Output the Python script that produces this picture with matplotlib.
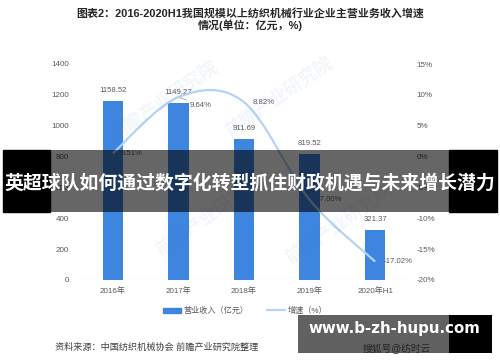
import matplotlib
matplotlib.use("Agg")
import matplotlib.pyplot as plt
import numpy as np
from matplotlib.path import Path
from matplotlib.patches import PathPatch, Rectangle
from matplotlib.lines import Line2D
from matplotlib.patches import Patch

plt.rcParams['font.family'] = ['Liberation Sans', 'Noto Sans CJK SC']

categories = ["2016年", "2017年", "2018年", "2019年", "2020年H1"]
revenue = [1158.52, 1149.27, 911.69, 819.52, 321.37]
growth = [0.51, 9.64, 8.82, -7.00, -17.02]
left_ticks = [0, 200, 400, 600, 800, 1000, 1200, 1400]
right_ticks = [-20, -15, -10, -5, 0, 5, 10, 15]

BAR = "#3d85df"
LINE = "#b4d3f5"
TXT = "#595959"

W, H = 500, 362
fig = plt.figure(figsize=(W / 100, H / 100), dpi=100)
ax = fig.add_axes([80 / W, 1 - 280 / H, 328 / W, 216 / H])
ax2 = ax.twinx()

x = np.arange(len(categories))
ax.bar(x, revenue, width=0.31, color=BAR, zorder=2)
ax.set_xlim(-0.5, len(categories) - 0.5)
ax.set_ylim(0, 1400)
ax.set_yticks(left_ticks)
ax.set_xticks(x)
ax.set_xticklabels(categories)
ax2.set_ylim(-20, 15)
ax2.set_yticks(right_ticks)
ax2.set_yticklabels([f"{t}%" for t in right_ticks])

for a in (ax, ax2):
    for s in a.spines.values():
        s.set_visible(False)
    a.tick_params(length=0, labelsize=5.8, colors=TXT)
ax.tick_params(axis='y', pad=8)
ax2.tick_params(axis='y', pad=6)
ax.tick_params(axis='x', pad=5)
ax.axhline(0, color="#d9d9d9", lw=0.8, zorder=1)
ax.set_zorder(1)
ax2.set_zorder(2)

for xi, v in zip(x, revenue):
    ax.annotate(f"{v:.2f}", (xi, v), xytext=(0, 5), textcoords="offset points",
                ha="center", va="bottom", fontsize=5.6, color=TXT)

# smooth line (Bezier through data points)
pts = np.column_stack([x, growth]).astype(float)
verts = [tuple(pts[0])]
codes = [Path.MOVETO]
n = len(pts)
for i in range(n - 1):
    p0 = pts[i - 1] if i > 0 else pts[i]
    p1, p2 = pts[i], pts[i + 1]
    p3 = pts[i + 2] if i + 2 < n else pts[i + 1]
    c1 = p1 + (p2 - p0) / 6
    c2 = p2 - (p3 - p1) / 6
    verts += [tuple(c1), tuple(c2), tuple(p2)]
    codes += [Path.CURVE4] * 3
ax2.add_patch(PathPatch(Path(verts, codes), fill=False, edgecolor=LINE, lw=1.6, zorder=3))

for i, (xi, g) in enumerate(zip(x, growth)):
    if i == 1:
        ax2.annotate(f"{g:.2f}%", (xi, g), xytext=(8, -6), textcoords="offset points",
                     ha="left", va="center", fontsize=5.6, color=TXT,
                     arrowprops=dict(arrowstyle="-", color="#a6a6a6", lw=0.6,
                                     shrinkA=0, shrinkB=1))
    else:
        ax2.annotate(f"{g:.2f}%", (xi, g), xytext=(6, 0), textcoords="offset points",
                     ha="left", va="center", fontsize=5.6, color=TXT)

# watermarks
for (wx, wy) in [(0.33, 0.72), (0.56, 0.73), (0.42, 0.4), (0.68, 0.38)]:
    fig.text(wx, wy, "前瞻产业研究院", rotation=35, fontsize=13, color="#4a7fc0",
             alpha=0.07, ha="center", va="center", fontweight="bold")

# title
fig.text(0.5, 1 - 13 / H, "图表2：2016-2020H1我国规模以上纺织机械行业企业主营业务收入增速",
         ha="center", va="center", fontsize=7.9, fontweight="bold", color="#262626")
fig.text(0.5, 1 - 25 / H, "情况(单位：亿元，%)",
         ha="center", va="center", fontsize=7.9, fontweight="bold", color="#262626")

# legend
leg = fig.legend(handles=[Patch(color=BAR, label="营业收入（亿元）"),
                          Line2D([], [], color=LINE, lw=1.6, label="增速（%）")],
                 loc="center", bbox_to_anchor=(0.49, 1 - 311 / H), ncol=2, frameon=False,
                 fontsize=5.9, handlelength=2.2, handleheight=0.6, columnspacing=2.2,
                 handletextpad=0.3)
for t in leg.get_texts():
    t.set_color(TXT)

fig.text(55 / W, 1 - 347 / H, "资料来源：中国纺织机械协会 前瞻产业研究院整理",
         ha="left", va="center", fontsize=6.6, color="#404040")

# overlay banner
fig.add_artist(Rectangle((3 / W, 1 - 212 / H), 47 / W, 62 / H, transform=fig.transFigure,
                         color="black", zorder=10))
fig.add_artist(Rectangle((50 / W, 1 - 212 / H), 399 / W, 62 / H, transform=fig.transFigure,
                         color="black", alpha=0.6, zorder=10, lw=0))
fig.add_artist(Rectangle((449 / W, 1 - 212 / H), 48 / W, 62 / H, transform=fig.transFigure,
                         color="black", zorder=10))
fig.text(0.5, 1 - 183 / H, "英超球队如何通过数字化转型抓住财政机遇与未来增长潜力",
         ha="center", va="center", fontsize=13.6, fontweight="bold", color="white", zorder=11)

# bottom banner
fig.add_artist(Rectangle((298 / W, 1 - 353 / H), 151 / W, 38 / H, transform=fig.transFigure,
                         color="#616161", zorder=10, lw=0))
fig.add_artist(Rectangle((449 / W, 1 - 353 / H), 43 / W, 38 / H, transform=fig.transFigure,
                         color="black", zorder=10, lw=0))
fig.text(394 / W, 1 - 328 / H, "www.b-zh-hupu.com", ha="center", va="center",
         fontsize=10.8, fontweight="bold", color="white", zorder=11, family="DejaVu Sans")
fig.text(397 / W, 1 - 349 / H, "搜狐号@纺时云", ha="center", va="center",
         fontsize=7, color="#222222", zorder=11)

fig.savefig("out.png", dpi=100)
